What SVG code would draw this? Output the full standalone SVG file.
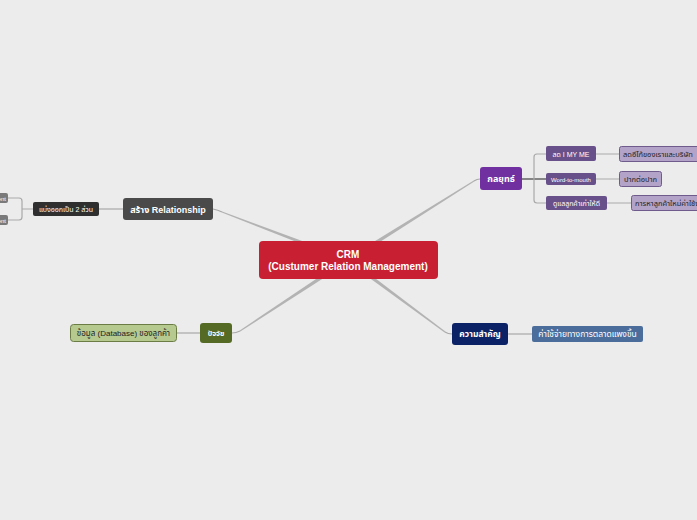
<svg xmlns="http://www.w3.org/2000/svg" width="697" height="520" viewBox="0 0 697 520">
<defs>
<style>
text{font-family:"Liberation Sans","Noto Sans Thai","Noto Sans","DejaVu Sans",sans-serif;}
.t{fill:#fff;font-weight:bold;text-anchor:middle;}
.tw{fill:#fff;text-anchor:middle;}
.td{fill:#222;text-anchor:middle;}
.c{fill:none;stroke:#a9a9a9;stroke-width:1.2;}
.cd{fill:none;stroke:#444;stroke-width:1.2;}
.tp{fill:#b3b3b3;}
</style>
</defs>
<rect width="697" height="520" fill="#ececec"/>
<g id="connectors">
<polygon class="tp" points="348.7,258.1 222.2,211.4 221.8,212.6 347.3,261.9"/>
<path class="c" d="M222,212 Q218,210 213,209"/>
<polygon class="tp" points="349.1,261.7 474.3,181.5 473.7,180.5 346.9,258.3"/>
<path class="c" d="M474,181 Q477,179 480,179"/>
<polygon class="tp" points="349.1,261.7 240.3,331.5 239.7,330.5 346.9,258.3"/>
<path class="c" d="M240,331 Q236,333 232,333"/>
<polygon class="tp" points="346.8,261.6 444.6,332.5 445.4,331.5 349.2,258.4"/>
<path class="c" d="M445,332 Q448,334 452,334"/>
<path class="c" d="M123,209 H99"/>
<path class="c" d="M33,209 H22 M8,198 H19 Q22,198 22,201 V217 Q22,220 19,220 H8"/>
<path class="cd" d="M522,179 H546"/>
<path class="c" d="M546,154 H537 Q534,154 534,157 V200 Q534,203 537,203 H546"/>
<path class="c" d="M596,154 H619 M596,179 H619 M607,203 H631"/>
<path class="c" d="M200,333 H177"/>
<path class="c" d="M508,334 H532"/>
</g>
<g id="center">
<rect x="259" y="241" width="179" height="38" rx="4" fill="#c81f33"/>
<text class="t" x="348" y="258" font-size="10">CRM</text>
<text class="t" x="348" y="270" font-size="10">(Custumer Relation Management)</text>
</g>
<g id="relationship">
<rect x="123" y="198" width="90" height="22" rx="3" fill="#4a4a4a"/>
<text class="t" x="168" y="213" font-size="9">สร้าง Relationship</text>
</g>
<g id="split">
<rect x="33" y="202" width="66" height="14" rx="2" fill="#2f2f2f"/>
<text class="tw" x="66" y="212" font-size="7">แบ่งออกเป็น 2 ส่วน</text>
</g>
<g id="left1">
<rect x="-60" y="193" width="68" height="10" rx="2" fill="#7a7a7a"/>
<text class="tw" x="6" y="200.5" font-size="6" style="text-anchor:end">Management</text>
</g>
<g id="left2">
<rect x="-60" y="215" width="68" height="10" rx="2" fill="#7a7a7a"/>
<text class="tw" x="6" y="222.5" font-size="6" style="text-anchor:end">Management</text>
</g>
<g id="strategy">
<rect x="480" y="167" width="42" height="23" rx="3" fill="#7030a0"/>
<text class="t" x="501" y="182" font-size="9">กลยุทธ์</text>
</g>
<g id="s1">
<rect x="546" y="146" width="50" height="15" rx="2" fill="#68508a"/>
<text class="tw" x="571" y="156.5" font-size="7">ลด I MY ME</text>
</g>
<g id="s2">
<rect x="546" y="173" width="50" height="12" rx="2" fill="#68508a"/>
<text class="tw" x="571" y="181.5" font-size="6">Word-to-mouth</text>
</g>
<g id="s3">
<rect x="546" y="196" width="61" height="14" rx="2" fill="#68508a"/>
<text class="tw" x="576.5" y="206" font-size="7">ดูแลลูกค้าเก่าให้ดี</text>
</g>
<g id="s1a">
<rect x="619.5" y="146.5" width="84" height="15" rx="2" fill="#b3a3c8" stroke="#6f5b8c"/>
<text class="td" x="623" y="157" font-size="7.5" style="text-anchor:start">ลดอีโก้ของเราและบริษัท</text>
</g>
<g id="s2a">
<rect x="619.5" y="171.5" width="42" height="15" rx="2" fill="#b3a3c8" stroke="#6f5b8c"/>
<text class="td" x="640.5" y="182" font-size="7.5">ปากต่อปาก</text>
</g>
<g id="s3a">
<rect x="631.5" y="195.5" width="80" height="15" rx="2" fill="#b3a3c8" stroke="#6f5b8c"/>
<text class="td" x="635" y="206" font-size="7.5" style="text-anchor:start">การหาลูกค้าใหม่ค่าใช้จ่ายสูง</text>
</g>
<g id="factor">
<rect x="200" y="323" width="32" height="20" rx="3" fill="#556b25"/>
<text class="t" x="216" y="336" font-size="7">ปัจจัย</text>
</g>
<g id="database">
<rect x="70.5" y="324.5" width="106" height="17" rx="3" fill="#b6c98f" stroke="#6b7d45"/>
<text class="td" x="123.5" y="336" font-size="8">ข้อมูล (Database) ของลูกค้า</text>
</g>
<g id="importance">
<rect x="452" y="323" width="56" height="22" rx="3" fill="#0c2266"/>
<text class="t" x="480" y="337" font-size="8.5">ความสำคัญ</text>
</g>
<g id="cost">
<rect x="532" y="326" width="111" height="16" rx="2" fill="#4a6d9c"/>
<text class="tw" x="587.5" y="337" font-size="8.5">ค่าใช้จ่ายทางการตลาดแพงขึ้น</text>
</g>
</svg>
